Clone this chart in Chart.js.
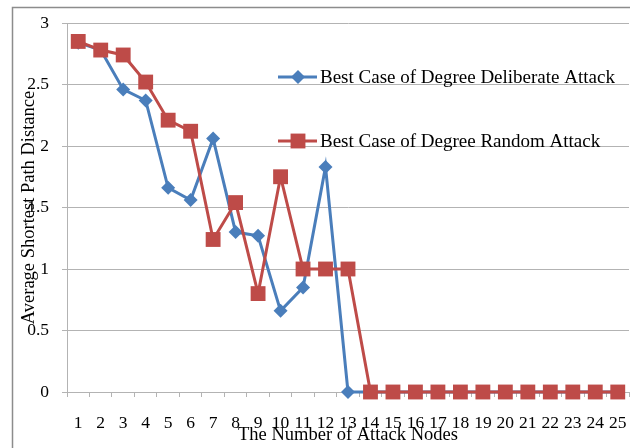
<!DOCTYPE html>
<html>
<head>
<meta charset="utf-8">
<script src="https://cdn.jsdelivr.net/npm/chart.js@4/dist/chart.umd.min.js"></script>
<style>
  html, body { margin: 0; padding: 0; background: #fff; }
  #wrap { width: 630px; height: 448px; }
</style>
</head>
<body>
<div id="wrap"><canvas id="attack-chart"></canvas></div>
<script>
var attackNodes = ["1", "2", "3", "4", "5", "6", "7", "8", "9", "10", "11", "12", "13",
                   "14", "15", "16", "17", "18", "19", "20", "21", "22", "23", "24", "25"];
var deliberateAttack = [2.84, 2.78, 2.46, 2.37, 1.66, 1.56, 2.06, 1.30, 1.27, 0.66, 0.85, 1.83, 0,
                        0, 0, 0, 0, 0, 0, 0, 0, 0, 0, 0, 0];
var randomAttack = [2.85, 2.78, 2.74, 2.52, 2.21, 2.12, 1.24, 1.54, 0.80, 1.75, 1.00, 1.00, 1.00,
                    0, 0, 0, 0, 0, 0, 0, 0, 0, 0, 0, 0];
var seriesNames = ["Best Case of Degree Deliberate Attack", "Best Case of Degree Random Attack"];

var serif = "'Liberation Serif', 'Times New Roman', serif";
var gridGray = '#b3b3b3';

// outer chart frame, like the spreadsheet chart border
var framePlugin = {
    id: 'frame',
    beforeDraw: function(chart) {
        var c = chart.ctx;
        c.save();
        c.strokeStyle = '#8c8c8c';
        c.lineWidth = 1.5;
        c.strokeRect(12.5, 7.5, chart.width + 20, chart.height + 20);
        c.restore();
    }
};

// legend sits inside the plot, to the right
var legendPlugin = {
    id: 'insideLegend',
    afterDatasetsDraw: function(chart) {
        var c = chart.ctx;
        var rows = [77, 141];
        c.save();
        chart.data.datasets.forEach(function(ds, i) {
            var y = rows[i];
            c.strokeStyle = ds.borderColor;
            c.lineWidth = ds.borderWidth;
            c.beginPath();
            c.moveTo(278, y);
            c.lineTo(317, y);
            c.stroke();
            c.fillStyle = ds.pointBackgroundColor;
            c.strokeStyle = ds.pointBorderColor;
            Chart.helpers.drawPoint(c, {
                pointStyle: ds.pointStyle,
                radius: ds.pointRadius,
                rotation: 0,
                borderWidth: 0
            }, 298, y);
            c.fillStyle = '#000';
            c.font = "19px " + serif;
            c.textBaseline = 'middle';
            c.textAlign = 'left';
            c.fillText(ds.label, 320, y + 1);
        });
        c.restore();
    }
};

var ctx = document.getElementById('attack-chart').getContext('2d');
var myLineChart = new Chart(ctx, {
    type: 'line',
    data: {
        labels: attackNodes,
        datasets: [{
            label: seriesNames[0],
            data: deliberateAttack,
            borderColor: '#4a7ebb',
            backgroundColor: '#4a7ebb',
            pointBackgroundColor: '#4a7ebb',
            pointBorderColor: '#4a7ebb',
            borderWidth: 3,
            pointStyle: 'rectRot',
            pointRadius: 7,
            pointBorderWidth: 0,
            tension: 0,
            clip: false,
            order: 1
        }, {
            label: seriesNames[1],
            data: randomAttack,
            borderColor: '#be4b48',
            backgroundColor: '#be4b48',
            pointBackgroundColor: '#be4b48',
            pointBorderColor: '#be4b48',
            borderWidth: 3,
            pointStyle: 'rect',
            pointRadius: 10.5,
            pointBorderWidth: 0,
            tension: 0,
            clip: false,
            order: 0
        }]
    },
    options: {
        responsive: true,
        maintainAspectRatio: false,
        animation: false,
        layout: {
            autoPadding: false,
            padding: { left: 12, top: 23, right: 1, bottom: 0 }
        },
        plugins: {
            legend: { display: false },
            tooltip: { enabled: false }
        },
        scales: {
            x: {
                offset: true,
                grid: {
                    offset: true,
                    drawOnChartArea: false,
                    drawTicks: true,
                    tickLength: 5,
                    color: gridGray
                },
                border: { color: gridGray },
                ticks: {
                    color: '#000',
                    font: { family: serif, size: 17.5 },
                    padding: 16,
                    maxRotation: 0,
                    autoSkip: false
                },
                title: {
                    display: true,
                    text: 'The Number of Attack Nodes',
                    color: '#000',
                    font: { family: serif, size: 18.5 },
                    padding: { top: 0, bottom: 2 }
                },
                afterFit: function(scale) {
                    scale.height = 56;
                    scale.paddingLeft = 0;
                    scale.paddingRight = 0;
                }
            },
            y: {
                min: 0,
                max: 3,
                ticks: {
                    stepSize: 0.5,
                    color: '#000',
                    font: { family: serif, size: 17.5 },
                    padding: 13,
                    callback: function(value) { return String(Math.round(value * 10) / 10); }
                },
                grid: {
                    color: gridGray,
                    tickLength: 5
                },
                border: { color: gridGray },
                title: {
                    display: true,
                    text: 'Average Shortest Path Distance',
                    color: '#000',
                    font: { family: serif, size: 18.5 },
                    padding: { top: 6, bottom: 0 }
                },
                afterFit: function(scale) {
                    scale.width = 55;
                    scale.paddingTop = 0;
                    scale.paddingBottom = 0;
                }
            }
        }
    },
    plugins: [framePlugin, legendPlugin]
});
</script>
</body>
</html>
